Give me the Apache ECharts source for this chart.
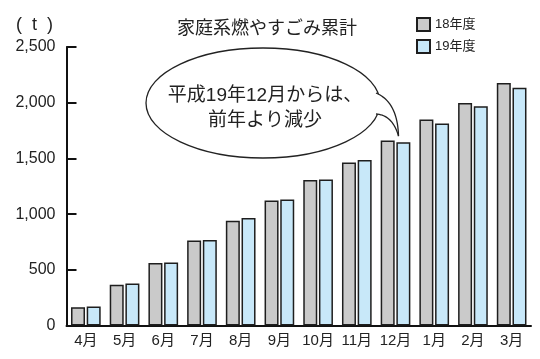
<!DOCTYPE html>
<html>
<head>
<meta charset="utf-8">
<script src="https://cdn.jsdelivr.net/npm/echarts@6/dist/echarts.min.js"></script>
<style>
  html, body { margin: 0; padding: 0; background: #fff; }
  #chart { width: 540px; height: 359px; }
</style>
</head>
<body>
<div id="chart"></div>
<script>
// Monthly cumulative household burnable waste (t), fiscal years 18 and 19
const months = ['4月', '5月', '6月', '7月', '8月', '9月', '10月', '11月', '12月', '1月', '2月', '3月'];
const fy18 = [164, 365, 562, 762, 941, 1123, 1305, 1463, 1660, 1849, 1998, 2177];
const fy19 = [170, 376, 565, 768, 965, 1132, 1311, 1485, 1646, 1813, 1968, 2135];
const seriesNames = ['18年度', '19年度'];
const yTicks = [0, 500, 1000, 1500, 2000, 2500];
const unitLabel = '(  t  )';
const titleText = '家庭系燃やすごみ累計';
const calloutText = '平成19年12月からは、\n前年より減少';

const LATIN = "'Liberation Sans', Arial, 'Noto Sans CJK JP', sans-serif";
const NARROW = "'Liberation Sans Narrow', 'Liberation Sans', Arial, sans-serif";

const chart = echarts.init(document.getElementById('chart'), null, { renderer: 'canvas' });

const barBorder = { borderColor: '#1e1e1e', borderWidth: 1.5 };

chart.setOption({
  animation: false,
  backgroundColor: '#ffffff',
  title: {
    text: titleText,
    left: 262, top: 13, textAlign: 'center',
    textStyle: { fontSize: 18, fontWeight: 'normal', color: '#222', fontFamily: "'Noto Sans CJK JP', sans-serif" }
  },
  legend: {
    orient: 'vertical',
    left: 416, top: 17, padding: 0,
    itemWidth: 13, itemHeight: 13, itemGap: 7,
    icon: 'rect',
    data: seriesNames,
    textStyle: { fontSize: 13, color: '#222', fontFamily: LATIN }
  },
  grid: { left: 66.5, right: 9, top: 47, bottom: 33.5, containLabel: false },
  xAxis: {
    type: 'category',
    data: months,
    axisLine: { lineStyle: { color: '#111', width: 2 } },
    axisTick: { inside: true, length: 5, lineStyle: { color: '#111', width: 2 } },
    axisLabel: { fontSize: 15, color: '#222', margin: 8, fontFamily: LATIN, interval: 0 }
  },
  yAxis: {
    type: 'value',
    min: yTicks[0], max: yTicks[yTicks.length - 1], interval: yTicks[1] - yTicks[0],
    axisLine: { show: true, lineStyle: { color: '#111', width: 2 } },
    axisTick: { show: true, inside: true, length: 10, lineStyle: { color: '#111', width: 2 } },
    splitLine: { show: false },
    axisLabel: {
      fontSize: 16, color: '#222', margin: 11, fontFamily: NARROW,
      formatter: v => v.toLocaleString('en-US')
    }
  },
  series: [
    {
      name: seriesNames[0], type: 'bar', data: fy18,
      barWidth: 14, barGap: '12%',
      itemStyle: Object.assign({ color: '#cacaca' }, barBorder)
    },
    {
      name: seriesNames[1], type: 'bar', data: fy19,
      barWidth: 14, barGap: '12%',
      itemStyle: Object.assign({ color: '#c8e8f9' }, barBorder)
    }
  ]
});

// Speech bubble pointing at the December FY19 bar
const decIdx = months.indexOf('12月');
const tipBase = chart.convertToPixel({ xAxisIndex: 0, yAxisIndex: 0 }, [decIdx, fy19[decIdx]]);
const tip = [tipBase[0] + 3, tipBase[1] - 6];
const cx = 263, cy = 103, rx = 117, ry = 55;
const up = [376, 93], low = [376, 114];
const upCtrl = [tip[0] - 1, 102], lowCtrl = [tip[0] - 6, 115];

// points along a quadratic curve, used to fill the tail outline
function quadPoints(p0, c, p1, n) {
  const pts = [];
  for (let i = 0; i <= n; i++) {
    const t = i / n, u = 1 - t;
    pts.push([u * u * p0[0] + 2 * u * t * c[0] + t * t * p1[0],
              u * u * p0[1] + 2 * u * t * c[1] + t * t * p1[1]]);
  }
  return pts;
}
const tailFill = [[up[0] - 5, up[1]]]
  .concat(quadPoints(up, upCtrl, tip, 16))
  .concat(quadPoints(tip, lowCtrl, low, 16))
  .concat([[low[0] - 5, low[1]]]);

chart.setOption({
  graphic: [
    {
      type: 'text', x: 16, y: 25, z: 5,
      style: { text: unitLabel, fill: '#222', font: "18px " + LATIN, verticalAlign: 'middle' }
    },
    {
      type: 'ellipse', z: 10,
      shape: { cx: cx, cy: cy, rx: rx, ry: ry },
      style: { fill: '#fff', stroke: '#222', lineWidth: 1.3 }
    },
    {
      // white patch covering the ellipse outline where the tail joins
      type: 'polygon', z: 11,
      shape: { points: tailFill },
      style: { fill: '#fff', stroke: null }
    },
    {
      type: 'polyline', z: 12,
      shape: { points: quadPoints(up, upCtrl, tip, 20) },
      style: { stroke: '#222', lineWidth: 1.3, fill: null }
    },
    {
      type: 'polyline', z: 12,
      shape: { points: quadPoints(low, lowCtrl, tip, 20) },
      style: { stroke: '#222', lineWidth: 1.3, fill: null }
    },
    {
      type: 'text', z: 13, x: cx + 2, y: 108,
      style: {
        text: calloutText, fill: '#222',
        font: "19px " + LATIN,
        align: 'center', verticalAlign: 'middle', lineHeight: 25
      }
    }
  ]
});
</script>
</body>
</html>
